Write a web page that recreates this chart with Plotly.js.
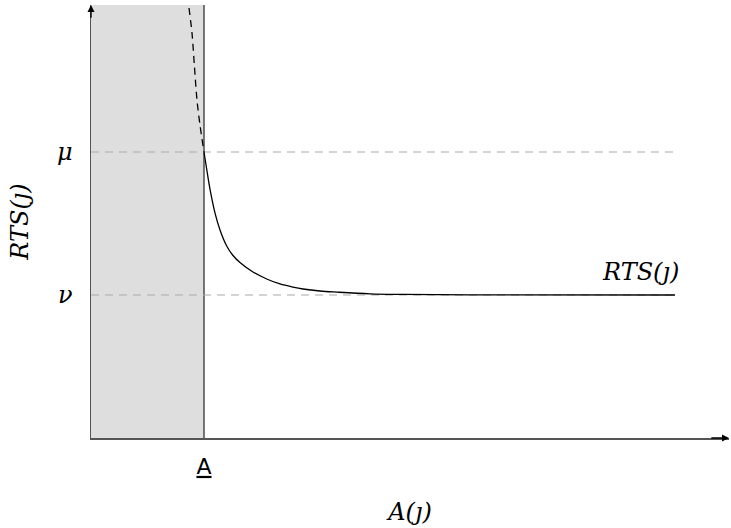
<!DOCTYPE html>
<html>
<head>
<meta charset="utf-8">
<script src="https://cdn.plot.ly/plotly-3.0.1.min.js"></script>
<style>html,body{margin:0;padding:0;background:#fff;}#chart{width:731px;height:528px;}</style>
</head>
<body>
<div id="chart"></div>
<script>
// Key levels and threshold
const levelNames = ['ν', 'μ'];
const levelValues = [1, 2];
const thresholdName = 'A';
const thresholdX = 1.771;
const lineEndX = 9.154;

// RTS curve: dashed part (left of threshold) and solid part (right of threshold)
const dashX = [1.536, 1.583, 1.622, 1.661, 1.708, 1.771];
const dashY = [3.007, 2.832, 2.594, 2.364, 2.189, 2.0];
const solidX = [1.771, 1.818, 1.865, 1.944, 2.022, 2.127, 2.226, 2.335, 2.539, 2.754, 2.962, 3.166, 3.323, 3.589, 3.856, 4.373, 4.890, 5.940, 9.154];
const solidY = [2.0, 1.867, 1.741, 1.573, 1.455, 1.343, 1.276, 1.227, 1.161, 1.112, 1.077, 1.055, 1.042, 1.028, 1.020, 1.008, 1.004, 1.001, 1.0];

const curveLabel = 'RTS(ȷ)';
const xTitle = 'A(ȷ)';
const yTitle = 'RTS(ȷ)';

const xMax = 10;
const yMax = 3.028;
const serif = '"DejaVu Serif", serif';

const traces = [
  {x: dashX, y: dashY, mode: 'lines', line: {color: '#000', width: 1.3, dash: '7px,5px', shape: 'spline', smoothing: 0.8}, hoverinfo: 'skip'},
  {x: solidX, y: solidY, mode: 'lines', line: {color: '#000', width: 1.3, shape: 'spline', smoothing: 1}, hoverinfo: 'skip'}
];

const shapes = [
  {type: 'rect', xref: 'x', yref: 'y', x0: 0, x1: thresholdX, y0: 0, y1: yMax, fillcolor: '#dedede', line: {width: 0}, layer: 'below'},
  {type: 'line', xref: 'x', yref: 'y', x0: thresholdX, x1: thresholdX, y0: 0, y1: yMax, line: {color: '#555', width: 1.6}, layer: 'below'}
];
levelValues.forEach(v => shapes.push({type: 'line', xref: 'x', yref: 'y', x0: 0, x1: lineEndX, y0: v, y1: v, line: {color: '#aaa', width: 1.2, dash: '8px,6px'}, layer: 'below'}));

const annotations = [
  {x: 8.605, y: 1.161, xref: 'x', yref: 'y', text: '<i>' + curveLabel + '</i>', showarrow: false, font: {family: serif, size: 24, color: '#000'}},
  {x: xMax, y: 0, xref: 'x', yref: 'y', ax: xMax - 0.3, ay: 0, axref: 'x', ayref: 'y', text: '', showarrow: true, arrowhead: 2, arrowsize: 1, arrowwidth: 1.4, arrowcolor: '#000'},
  {x: 0, y: yMax, xref: 'x', yref: 'y', ax: 0, ay: yMax - 0.1, axref: 'x', ayref: 'y', text: '', showarrow: true, arrowhead: 2, arrowsize: 1, arrowwidth: 1.4, arrowcolor: '#000'}
];

const layout = {
  width: 731, height: 528,
  margin: {l: 91, r: 2, t: 5, b: 90},
  paper_bgcolor: '#fff', plot_bgcolor: '#fff',
  showlegend: false,
  xaxis: {
    range: [0, xMax], showgrid: false, zeroline: false, showline: true, linecolor: '#555', linewidth: 1.5,
    tickvals: [thresholdX], ticktext: ['<u>' + thresholdName + '</u>'], ticks: '', ticklabelstandoff: 8,
    tickfont: {family: '"DejaVu Sans", sans-serif', size: 22, color: '#000'},
    title: {text: '<i>' + xTitle + '</i>', font: {family: serif, size: 24, color: '#000'}, standoff: 25},
    fixedrange: true
  },
  yaxis: {
    range: [0, yMax], showgrid: false, zeroline: false, showline: true, linecolor: '#555', linewidth: 1.5,
    tickvals: levelValues, ticktext: levelNames.map(s => '<i>' + s + '</i>'), ticks: '', ticklabelstandoff: 12,
    tickfont: {family: serif, size: 24, color: '#000'},
    title: {text: '<i>' + yTitle + '</i>', font: {family: serif, size: 24, color: '#000'}, standoff: 21},
    fixedrange: true
  },
  shapes: shapes,
  annotations: annotations
};

Plotly.newPlot('chart', traces, layout, {displayModeBar: false, staticPlot: true});
</script>
</body>
</html>
